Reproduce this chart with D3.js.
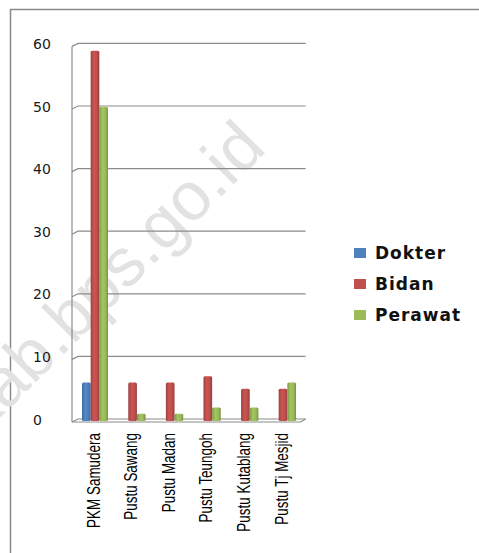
<!DOCTYPE html>
<html>
<head>
<meta charset="utf-8">
<script src="https://cdn.jsdelivr.net/npm/d3@7"></script>
<style>
  html, body { margin: 0; padding: 0; background: #fff; }
  svg { display: block; }
</style>
</head>
<body>
<svg id="chart" width="479" height="553"></svg>
<script>
/* Tenaga kesehatan per puskesmas / pustu — 3D clustered column look */

const categories = ['PKM Samudera', 'Pustu Sawang', 'Pustu Madan', 'Pustu Teungoh', 'Pustu Kutablang', 'Pustu Tj Mesjid'];
const seriesNames = ['Dokter', 'Bidan', 'Perawat'];
const dokter = [6, 0, 0, 0, 0, 0];
const bidan = [59, 6, 6, 7, 5, 5];
const perawat = [50, 1, 1, 2, 2, 6];
const yTicks = [0, 10, 20, 30, 40, 50, 60];

const COLORS = { Dokter: '#4F81BD', Bidan: '#C0504D', Perawat: '#9BBB59' };
const values = { Dokter: dokter, Bidan: bidan, Perawat: perawat };

const svg = d3.select('#chart');

// ============================================================
// Gradients (cylinder-ish shading)
// ============================================================
const defs = svg.append('defs');
seriesNames.forEach(s => {
  const c = d3.color(COLORS[s]);
  const g = defs.append('linearGradient').attr('id', 'grad-' + s)
    .attr('x1', '0%').attr('x2', '100%').attr('y1', '0%').attr('y2', '0%');
  g.append('stop').attr('offset', '0%').attr('stop-color', c.darker(0.6));
  g.append('stop').attr('offset', '35%').attr('stop-color', c.brighter(0.15));
  g.append('stop').attr('offset', '70%').attr('stop-color', c);
  g.append('stop').attr('offset', '100%').attr('stop-color', c.darker(0.7));
});

// chart frame
svg.append('rect')
  .attr('x', 10.5).attr('y', 9.5).attr('width', 500).attr('height', 600)
  .attr('fill', 'none').attr('stroke', '#8a8a8a').attr('stroke-width', 1.5);

// watermark
svg.append('text')
  .attr('transform', 'translate(268,150) rotate(-45)')
  .attr('text-anchor', 'end')
  .style('font-family', '"Liberation Sans", Arial, sans-serif')
  .style('font-size', '68px')
  .attr('fill', '#e2e2e2')
  .text('acehutarakab.bps.go.id');

// ============================================================
// Scales
// ============================================================
const depth = 6, depthY = 3;
const y = d3.scaleLinear().domain([0, 60]).range([419, 43.4]);
const x = d3.scaleBand().domain(categories).range([72, 297.6]);
const xs = d3.scaleBand().domain(seriesNames).range([10, 36]);

// walls + gridlines
const wall = svg.append('g').attr('stroke', '#8c8c8c').attr('stroke-width', 1.2).attr('fill', 'none');
wall.append('path')
  .attr('d', `M72,${y(60) + depthY}L72,${y(0) + depthY}`);
yTicks.forEach(t => {
  wall.append('path')
    .attr('d', `M72,${y(t) + depthY}L${72 + depth},${y(t)}L${x.range()[1] + 8},${y(t)}`);
});
// floor
wall.append('path')
  .attr('d', `M72,${y(0) + depthY}L${x.range()[1] + 3},${y(0) + depthY}L${x.range()[1] + 8},${y(0)}`);

// y axis labels
const yAxis = svg.append('g')
  .attr('transform', 'translate(33,0)')
  .call(d3.axisLeft(y).tickValues(yTicks).tickSize(0).tickPadding(0));
yAxis.select('.domain').remove();
yAxis.selectAll('text')
  .attr('text-anchor', 'start')
  .attr('x', 0)
  .attr('dy', '0.36em')
  .attr('fill', '#1a1a1a')
  .style('font-family', '"DejaVu Sans", Verdana, sans-serif')
  .style('font-size', '14px');

// ============================================================
// Bars
// ============================================================
const bars = svg.append('g');
seriesNames.forEach(s => {
  bars.selectAll('.bar-' + s)
    .data(categories.map((c, i) => ({ c, v: values[s][i] })).filter(d => d.v > 0))
    .join('rect')
    .attr('x', d => x(d.c) + xs(s))
    .attr('width', xs.bandwidth())
    .attr('y', d => y(d.v) + 1)
    .attr('height', d => y(0) + 2 - y(d.v) - 1)
    .attr('rx', 1.5)
    .attr('fill', `url(#grad-${s})`);
});

// category labels (condensed font look)
const xAxis = svg.append('g')
  .attr('transform', 'translate(2,433)')
  .call(d3.axisBottom(x).tickSize(0).tickPadding(0));
xAxis.select('.domain').remove();
const catText = xAxis.selectAll('text')
  .attr('text-anchor', 'end')
  .attr('x', 0).attr('y', 0)
  .attr('dy', '0.36em')
  .attr('fill', '#000')
  .style('font-family', '"Liberation Sans", Arial, sans-serif')
  .style('font-size', '19px');
const firstLen = catText.node().getComputedTextLength();
const squeeze = 95 / firstLen;
catText.attr('transform', `rotate(-90) scale(${squeeze},1)`);

// ============================================================
// Legend
// ============================================================
const legend = svg.append('g').attr('transform', 'translate(354,253)');
seriesNames.forEach((s, i) => {
  const row = legend.append('g').attr('transform', `translate(0,${i * 31})`);
  row.append('rect').attr('x', 0).attr('y', -5).attr('width', 12).attr('height', 10).attr('fill', COLORS[s]);
  row.append('text')
    .attr('x', 21).attr('y', 0).attr('dy', '0.36em')
    .style('font-family', '"DejaVu Sans", Verdana, sans-serif')
    .style('font-size', '17px').style('font-weight', 'bold')
    .style('letter-spacing', '1px')
    .attr('fill', '#111')
    .text(s);
});
</script>
</body>
</html>
